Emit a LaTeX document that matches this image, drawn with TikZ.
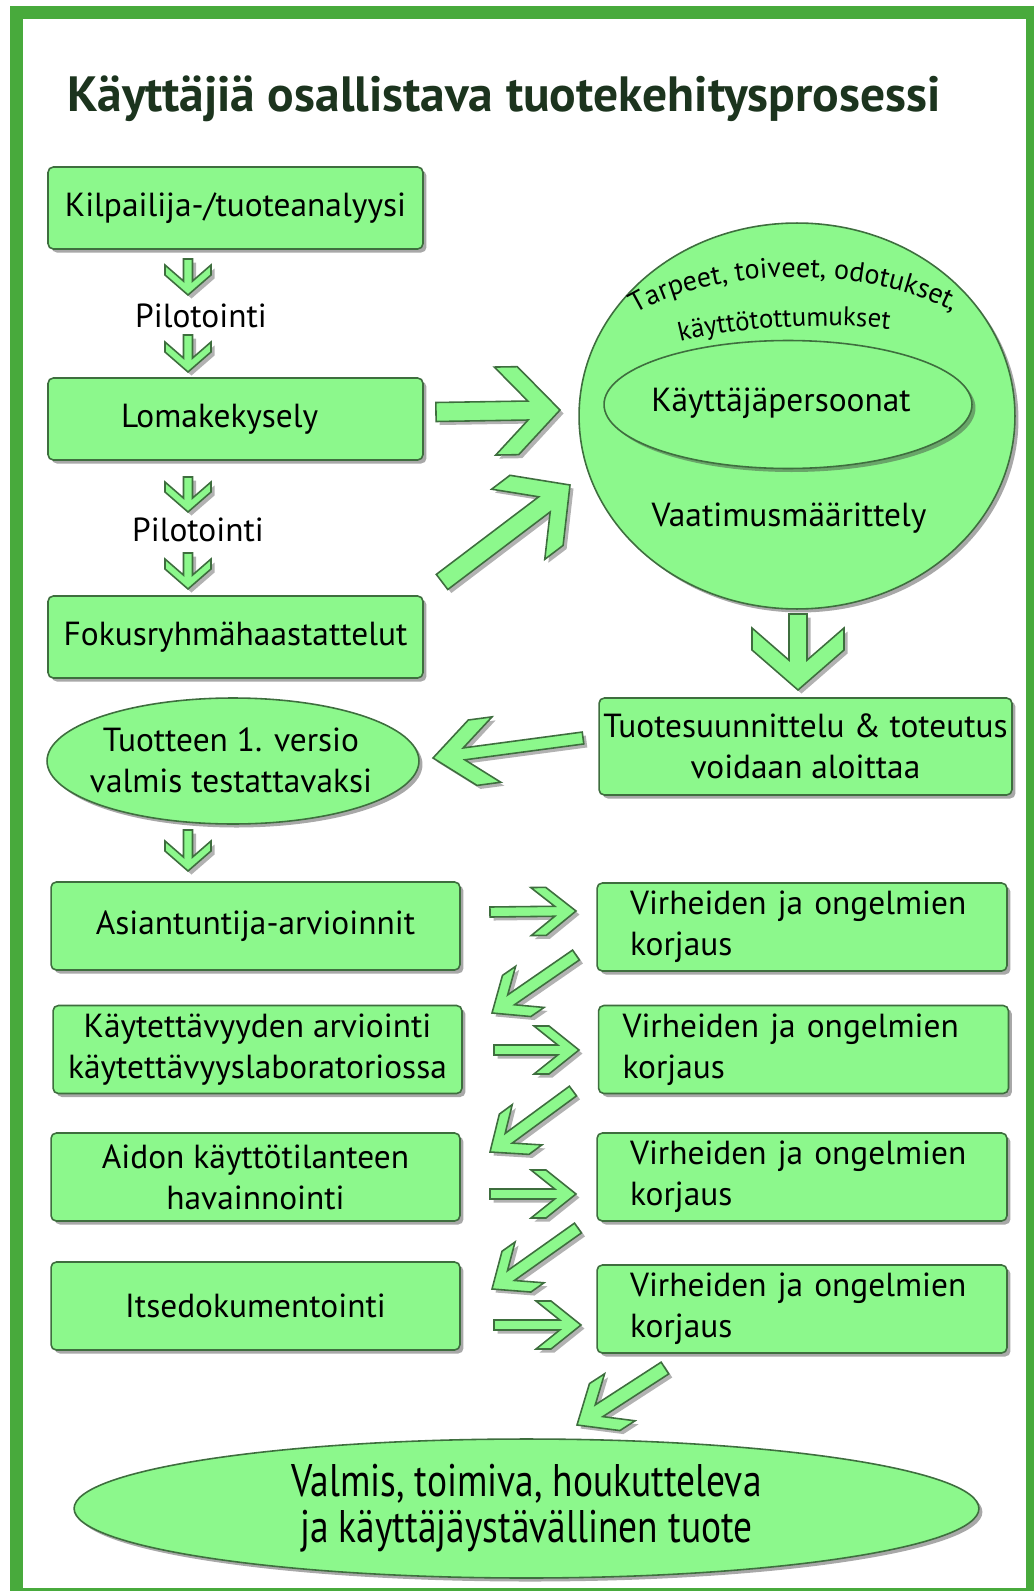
\documentclass[tikz,border=0pt]{standalone}
\usepackage{fontspec}
\setmainfont{PT Sans}
\newfontfamily\condfont[FakeStretch=0.82]{PT Sans}
\usetikzlibrary{shapes.geometric, shadows, decorations.text, calc}

\definecolor{leafgreen}{RGB}{140,248,140}
\definecolor{edgegreen}{RGB}{62,110,62}
\definecolor{framegreen}{RGB}{72,170,60}
\definecolor{titlegreen}{RGB}{28,52,30}

\tikzset{
  boxshadow/.style={drop shadow={shadow xshift=2pt, shadow yshift=-2pt, opacity=0.45, fill=black!75}},
  procbox/.style={draw=edgegreen, line width=0.9pt, fill=leafgreen, rounded corners=3pt,
    minimum width=7.5cm, minimum height=1.64cm, inner sep=0pt, align=center,
    font=\fontsize{19}{23.5}\selectfont, boxshadow},
  testbox/.style={procbox, minimum width=8.18cm, minimum height=1.76cm},
  fixbox/.style={procbox, minimum width=8.2cm, minimum height=1.76cm, text width=6.88cm,
    inner xsep=0.66cm, align=left},
  roundnode/.style={ellipse, draw=edgegreen, line width=0.9pt, fill=leafgreen, inner sep=0pt,
    align=center, font=\fontsize{19}{23.5}\selectfont, boxshadow},
  plainlabel/.style={font=\fontsize{19}{23.5}\selectfont, inner sep=1pt, align=center},
  arrbody/.style={draw=edgegreen, line width=0.9pt, fill=leafgreen, line join=miter},
  arrshadow/.style={fill=black, opacity=0.3, draw=none}
}

% block arrow from tail to tip: head half-width, shaft half-width, head length, arm cut
\newcommand{\blockarrow}[6]{%
  \pgfpointdiff{\pgfpointanchor{#1}{center}}{\pgfpointanchor{#2}{center}}%
  \pgfgetlastxy{\arrdx}{\arrdy}%
  \pgfmathsetmacro\arrlen{veclen(\arrdx,\arrdy)/0.569055}%
  \pgfmathsetmacro\arrang{atan2(\arrdy,\arrdx)}%
  \pgfmathsetmacro\arrjoin{#6+#5*#4/#3}%
  \foreach \sx/\sy/\sty in {2pt/-2pt/arrshadow, 0pt/0pt/arrbody}
    \draw[\sty, shift={(#2)}, xshift=\sx, yshift=\sy, rotate=\arrang]
      (0,0) -- (-#5,#3) -- ({-#5-#6},#3) -- (-\arrjoin,#4) -- (-\arrlen,#4)
      -- (-\arrlen,-#4) -- (-\arrjoin,-#4) -- ({-#5-#6},-#3) -- (-#5,-#3) -- cycle;
}

\begin{document}
\begin{tikzpicture}[x=0.02cm, y=-0.02cm]
	\useasboundingbox (0,0) rectangle (1034,1591);
	\fill[white] (0,0) rectangle (1034,1591);
	\fill[framegreen] (10,6) rectangle (1034,1591);
	\fill[white] (23,19) rectangle (1026,1588);

	\node[anchor=base, font=\fontsize{28.2}{33}\selectfont\bfseries, text=titlegreen] (title) at (504,112)
		{Käyttäjiä osallistava tuotekehitysprosessi};

	% left column, first phase
	\node[procbox] (kilpailija) at (235.5,208) {Kilpailija-/tuoteanalyysi};
	\node[plainlabel] (pilot1) at (201,316) {Pilotointi};
	\node[procbox] (lomake) at (235.5,419) {Lomakekysely\hspace*{18pt}};
	\node[plainlabel] (pilot2) at (198,530) {Pilotointi};
	\node[procbox] (fokus) at (235.5,637) {Fokusryhmähaastattelut};

	% requirements circle
	\node[roundnode, minimum width=8.72cm, minimum height=7.72cm] (needs) at (797,416) {};
	\path[decorate, decoration={text along path, text align=center,
		text={|\fontsize{16}{18}\selectfont|Tarpeet{,} toiveet{,} odotukset{,}}}]
		(627,319) .. controls (710,262) and (880,265) .. (962,317);
	\path[decorate, decoration={text along path, text align=center,
		text={|\fontsize{15.3}{18}\selectfont|käyttötottumukset}}]
		(674,343) .. controls (730,327) and (836,321) .. (896,330);
	\node[roundnode, minimum width=7.36cm, minimum height=2.56cm] (persona) at (788,404.5) {};
	\node[plainlabel] (personatext) at (781,403) {Käyttäjäpersoonat};
	\node[plainlabel] (vaatimus) at (789,518) {Vaatimusmäärittely};

	% design and first version
	\node[procbox, minimum width=8.26cm, minimum height=1.94cm] (design) at (805.5,746.5)
		{Tuotesuunnittelu \& toteutus\\voidaan aloittaa};
	\node[roundnode, minimum width=7.44cm, minimum height=2.52cm] (version) at (233,761) {};
	\node[plainlabel] (versiontext) at (231,760) {Tuotteen 1. versio\\valmis testattavaksi};

	% evaluation rows
	\node[testbox] (expert) at (255.5,926) {Asiantuntija-arvioinnit};
	\node[testbox] (lab) at (257.5,1049.5) {Käytettävyyden arviointi\\käytettävyyslaboratoriossa};
	\node[testbox] (field) at (255.5,1177) {Aidon käyttötilanteen\\havainnointi};
	\node[testbox] (selfdoc) at (255.5,1306) {Itsedokumentointi};
	\node[fixbox] (fix1) at (802,927) {Virheiden ja ongelmien\\korjaus};
	\node[fixbox, inner xsep=0.48cm, text width=7.24cm] (fix2) at (803.5,1049.5) {Virheiden ja ongelmien\\korjaus};
	\node[fixbox] (fix3) at (802,1177) {Virheiden ja ongelmien\\korjaus};
	\node[fixbox] (fix4) at (802,1309) {Virheiden ja ongelmien\\korjaus};

	\node[roundnode, minimum width=18.1cm, minimum height=2.78cm,
		font=\condfont\fontsize{26}{26.2}\selectfont] (goal) at (526.5,1508.5)
		{Valmis, toimiva, houkutteleva\\ja käyttäjäystävällinen tuote};

	% arrow ends
	\coordinate (s1t) at (188,259); \coordinate (s1h) at (188,295);
	\coordinate (s2t) at (188,335); \coordinate (s2h) at (188,372);
	\coordinate (s3t) at (188,477); \coordinate (s3h) at (188,512);
	\coordinate (s4t) at (188,553); \coordinate (s4h) at (188,589);
	\coordinate (s5t) at (188,830); \coordinate (s5h) at (188,871);
	\coordinate (b1t) at (436,412); \coordinate (b1h) at (560,410);
	\coordinate (b2t) at (442,582); \coordinate (b2h) at (570,485);
	\coordinate (b3t) at (798,614); \coordinate (b3h) at (798,690);
	\coordinate (b4t) at (583,738); \coordinate (b4h) at (433,758);
	\coordinate (r1t) at (490,912); \coordinate (r1h) at (576,911);
	\coordinate (r2t) at (494,1050); \coordinate (r2h) at (579,1050);
	\coordinate (r3t) at (490,1194); \coordinate (r3h) at (576,1194);
	\coordinate (r4t) at (494,1325); \coordinate (r4h) at (581,1325);
	\coordinate (d1t) at (576,955); \coordinate (d1h) at (492,1013);
	\coordinate (d2t) at (573,1091); \coordinate (d2h) at (490,1152);
	\coordinate (d3t) at (578,1228); \coordinate (d3h) at (492,1289);
	\coordinate (d4t) at (665,1368); \coordinate (d4h) at (577,1425);

	% arrows
	\foreach \t/\h in {s1t/s1h, s2t/s2h, s3t/s3h, s4t/s4h, s5t/s5h}
		\blockarrow{\t}{\h}{23}{4.5}{20}{10};
	\blockarrow{b1t}{b1h}{44}{9.5}{42}{23};
	\blockarrow{b2t}{b2h}{44}{9.5}{42}{23};
	\blockarrow{b3t}{b3h}{46}{9}{40}{22};
	\blockarrow{b4t}{b4h}{33}{6}{40}{24};
	\foreach \t/\h in {r1t/r1h, r2t/r2h, r3t/r3h, r4t/r4h}
		\blockarrow{\t}{\h}{24}{5}{30}{15};
	\foreach \t/\h in {d1t/d1h, d2t/d2h, d3t/d3h}
		\blockarrow{\t}{\h}{25}{6}{30}{16};
	\blockarrow{d4t}{d4h}{28}{7}{33}{18};
\end{tikzpicture}
\end{document}
